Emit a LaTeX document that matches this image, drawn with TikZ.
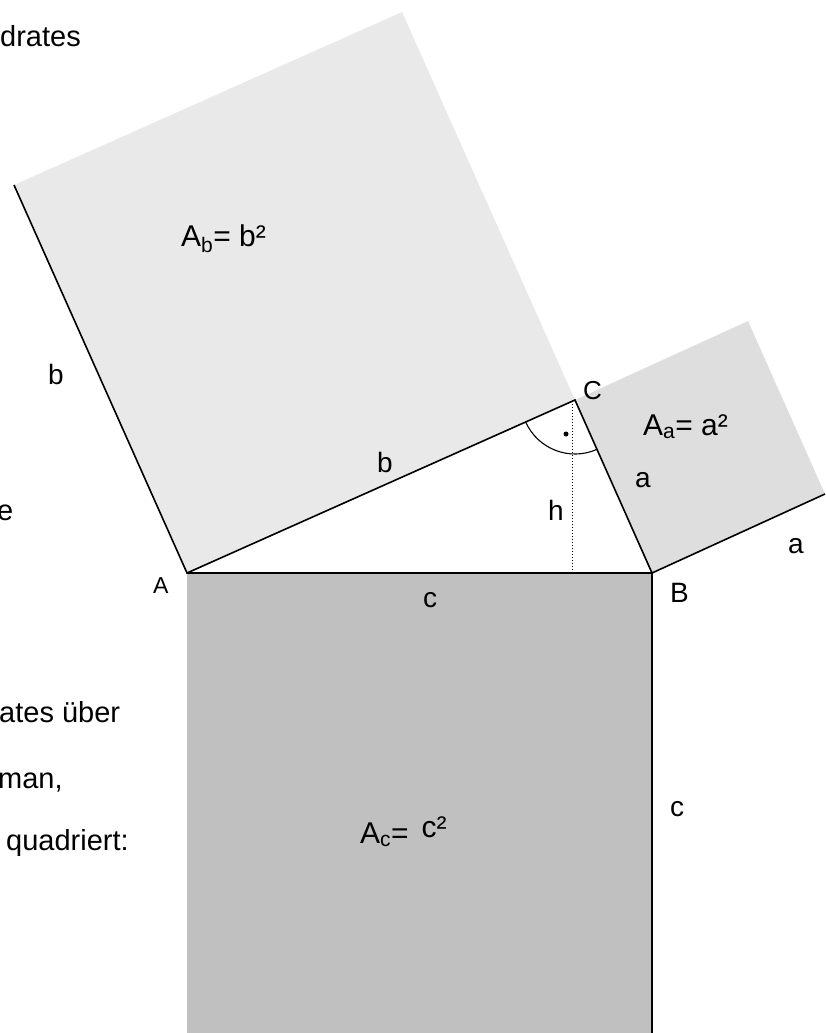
\documentclass[tikz,border=0pt]{standalone}
\usepackage{fontspec}
\setmainfont{Liberation Sans}
\usepackage{tikz}
\usetikzlibrary{calc}
\definecolor{LightGrey}{HTML}{E9E9E9}
\definecolor{MidGrey}{HTML}{DEDEDE}
\definecolor{DarkGrey}{HTML}{C0C0C0}
\tikzset{lbl/.style={anchor=base west,inner sep=0pt,font=\fontsize{28}{32}\selectfont}}

\begin{document}
\begin{tikzpicture}[x=1pt,y=-1pt]
  \useasboundingbox (0,0) rectangle (825,1033);
  \coordinate (A) at (187,573);
  \coordinate (B) at (652,573);
  \coordinate (C) at (575,400);
  \coordinate (Ab) at ($(A)+(-173,-388)$);
  \coordinate (Cb) at ($(C)+(-173,-388)$);
  \coordinate (Ca) at ($(C)+(173,-79)$);
  \coordinate (Ba) at ($(B)+(173,-79)$);
  \coordinate (Ac) at ($(A)+(0,465)$);
  \coordinate (Bc) at ($(B)+(0,465)$);
  \coordinate (H) at (572,573);
  % squares
  \fill[LightGrey] (A) -- (C) -- (Cb) -- (Ab) -- cycle;
  \fill[MidGrey] (C) -- (B) -- (Ba) -- (Ca) -- cycle;
  \fill[DarkGrey] (A) -- (B) -- (Bc) -- (Ac) -- cycle;
  % sides
  \draw[line width=1.6pt] (Ab) -- (A) -- (B) -- (Bc);
  \draw[line width=1.6pt] (A) -- (C) -- (B) -- (Ba);
  \draw[line width=1pt,dash pattern=on 1pt off 2pt] (H) -- (H |- C);
  \draw[line width=1.1pt] ([shift={(156:54)}]C) arc[start angle=156,end angle=66,radius=54];
  \fill (566,434) circle (2.5);
  % labels
  \node[lbl,font=\fontsize{23}{26}\selectfont] (lA) at (153,593) {A};
  \node[lbl] (lB) at (670,602) {B};
  \node[lbl,font=\fontsize{26}{30}\selectfont] (lC) at (583,399) {C};
  \node[lbl] (lb) at (377,472) {b};
  \node[lbl] (lbo) at (48,384) {b};
  \node[lbl] (la) at (635,487) {a};
  \node[lbl] (lao) at (788,553) {a};
  \node[lbl] (lc) at (423,607) {c};
  \node[lbl] (lco) at (670,816) {c};
  \node[lbl] (lh) at (548,520) {h};
  \node[lbl,font=\fontsize{30}{34}\selectfont] (areab) at (181,246) {A\textsubscript{b}= b²};
  \node[lbl,font=\fontsize{30}{34}\selectfont] (areaa) at (643,435) {A\textsubscript{a}= a²};
  \node[lbl,font=\fontsize{30}{34}\selectfont] (areac) at (360,843) {A\textsubscript{c}=\hspace{13pt}\raisebox{6pt}{c²}};
  % text cut at the left border
  \node[lbl,font=\fontsize{29}{33}\selectfont] (t1) at (0,47) {drates};
  \node[lbl,font=\fontsize{29}{33}\selectfont] (t2) at (-3,520) {e};
  \node[lbl,font=\fontsize{29}{33}\selectfont] (t3) at (-1,722) {ates über};
  \node[lbl,font=\fontsize{29}{33}\selectfont] (t4) at (-2,788) {man,};
  \node[lbl,font=\fontsize{29}{33}\selectfont] (t5) at (6,850) {quadriert:};
\end{tikzpicture}
\end{document}
